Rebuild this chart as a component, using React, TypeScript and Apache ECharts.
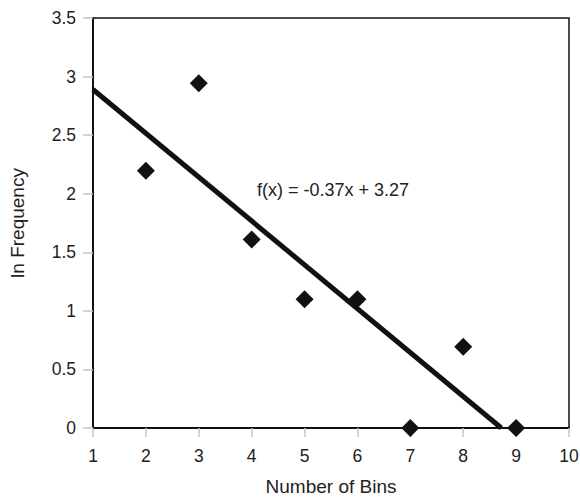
import React, { useEffect, useRef } from "react";
import * as echarts from "echarts";

const binCounts = [2, 3, 4, 5, 6, 7, 8, 9];
const lnFrequency = [2.197, 2.944, 1.609, 1.099, 1.099, 0, 0.693, 0];
const trendLine = [
  [1, 2.89],
  [8.72, 0],
];
const trendLabel = "f(x) = -0.37x + 3.27";
const xTicks = { min: 1, max: 10, interval: 1 };
const yTicks = { min: 0, max: 3.5, interval: 0.5 };

export default function App() {
  const ref = useRef<HTMLDivElement>(null);
  useEffect(() => {
    if (!ref.current) return;
    const chart = echarts.init(ref.current, undefined, { renderer: "svg" });
    const font = "Liberation Sans, Arial, Helvetica, sans-serif";
    chart.setOption({
      animation: false,
      backgroundColor: "#ffffff",
      textStyle: { fontFamily: font },
      grid: {
        left: 93,
        top: 18,
        right: 11,
        bottom: 72,
        containLabel: false,
        outerBoundsMode: "none",
        show: true,
        borderColor: "#111",
        borderWidth: 1.5,
      },
      xAxis: {
        type: "value",
        min: xTicks.min,
        max: xTicks.max,
        interval: xTicks.interval,
        name: "Number of Bins",
        nameLocation: "middle",
        nameGap: 49,
        nameTextStyle: { fontSize: 19, color: "#222", fontFamily: font },
        axisLine: { show: true, onZero: false, lineStyle: { color: "#111", width: 2 } },
        axisTick: { show: true, length: 9, lineStyle: { color: "#c4c4c4", width: 1.5 } },
        axisLabel: { fontSize: 17.5, color: "#222", margin: 19, fontFamily: font },
        splitLine: { show: false },
      },
      yAxis: {
        type: "value",
        min: yTicks.min,
        max: yTicks.max,
        interval: yTicks.interval,
        name: "ln Frequency",
        nameLocation: "middle",
        nameGap: 66,
        nameTextStyle: { fontSize: 19, color: "#222", fontFamily: font },
        axisLine: { show: true, onZero: false, lineStyle: { color: "#111", width: 2 } },
        axisTick: { show: true, length: 10, lineStyle: { color: "#c4c4c4", width: 1.5 } },
        axisLabel: { fontSize: 17.5, color: "#222", margin: 17, fontFamily: font },
        splitLine: { show: false },
      },
      series: [
        {
          type: "line",
          data: trendLine,
          showSymbol: false,
          symbol: "none",
          lineStyle: { color: "#111", width: 5 },
          z: 2,
        },
        {
          type: "scatter",
          data: binCounts.map((x, i) => [x, lnFrequency[i]]),
          symbol: "diamond",
          symbolSize: 18,
          itemStyle: { color: "#111", opacity: 1 },
          clip: false,
          z: 3,
        },
      ],
      graphic: [
        {
          type: "text",
          left: 257,
          top: 181,
          style: {
            text: trendLabel,
            fontSize: 18,
            fill: "#222",
            fontFamily: font,
          },
        },
      ],
    });
    return () => chart.dispose();
  }, []);
  return (
    <div
      ref={ref}
      style={{ position: "absolute", left: 0, top: 0, width: 580, height: 500 }}
    />
  );
}
